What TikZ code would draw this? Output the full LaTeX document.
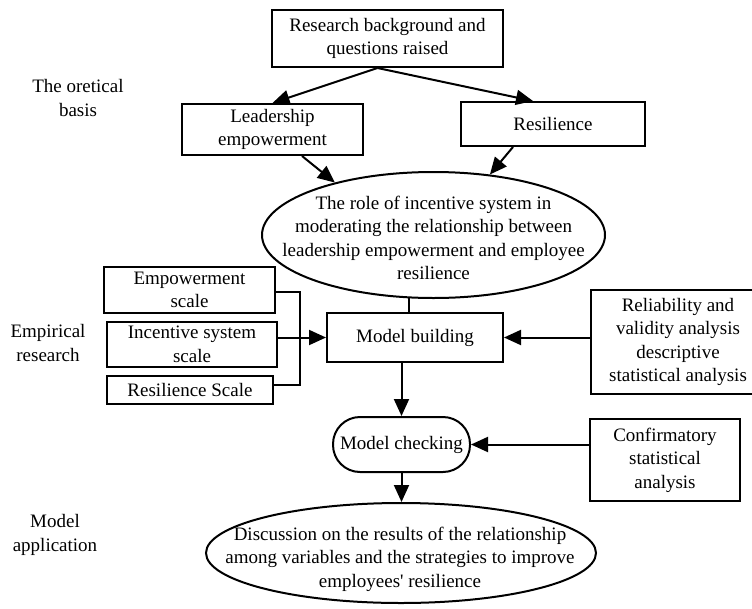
\documentclass[tikz,border=0pt]{standalone}
\usepackage{fontspec}
\setmainfont{Liberation Serif}
\usetikzlibrary{arrows.meta,shapes.geometric,calc}
\newcommand\fsz{\fontsize{19}{23.5}\selectfont}
\begin{document}
\begin{tikzpicture}[x=1pt,y=-1pt,
  box/.style={draw, line width=2pt, inner sep=0pt, align=center, font=\fsz},
  ell/.style={draw, ellipse, line width=2pt, inner sep=0pt},
  lbl/.style={align=center, font=\fsz, inner sep=0pt},
  ln/.style={line width=2pt},
  arr/.style={line width=2pt, -{Triangle[length=17pt,width=15pt]}}]
\useasboundingbox (0,0) rectangle (752,608);
\clip (0,0) rectangle (752,608);
% side labels
\node[lbl] (l1) at (78,98) {The oretical\\basis};
\node[lbl] (l2) at (48,343) {Empirical\\research};
\node[lbl] (l3) at (55,535) {Model\\application};
% boxes
\node[box, minimum width=231pt, minimum height=57pt] (top) at (387.5,38.5) {Research background and\\questions raised};
\node[box, minimum width=181pt, minimum height=51pt] (lead) at (272.5,129.5) {Leadership\\empowerment};
\node[box, minimum width=184pt, minimum height=44pt] (res) at (553,124) {Resilience};
\node[ell, minimum width=343pt, minimum height=126pt] (e1) at (433.5,235) {};
\node[lbl] (e1t) at (433.5,238) {The role of incentive system in\\moderating the relationship between\\leadership empowerment and employee\\resilience};
\node[box, minimum width=171pt, minimum height=46pt] (emp) at (189.5,290) {Empowerment\\scale};
\node[box, minimum width=170pt, minimum height=45pt] (inc) at (192,344.5) {Incentive system\\scale};
\node[box, minimum width=166pt, minimum height=28pt] (rsc) at (190,390) {Resilience Scale};
\node[box, minimum width=176pt, minimum height=49pt] (mb) at (415,337.5) {Model building};
\node[box, minimum width=174pt, minimum height=104pt] (rel) at (678,342) {Reliability and\\validity analysis\\descriptive\\statistical analysis};
\node[box, rounded corners=27pt, minimum width=137pt, minimum height=55pt] (mc) at (401.5,444.5) {Model checking};
\node[box, minimum width=150pt, minimum height=82pt] (conf) at (665,460) {Confirmatory\\statistical\\analysis};
\node[ell, minimum width=390pt, minimum height=100pt] (e2) at (401,553) {};
\node[lbl] (e2t) at (400,559) {Discussion on the results of the relationship\\among variables and the strategies to improve\\employees\textquotesingle{} resilience};
% connectors
\coordinate (tops) at ($(top.south)+(-10,0)$);
\draw[arr] (tops) -- (lead.north);
\draw[arr] (tops) -- ($(res.north)+(-20,0)$);
\draw[arr] ($(lead.south)+(29.5,0)$) -- (e1.152.9);
\draw[arr] ($(res.south)+(-40,0)$) -- (e1.47.9);
\draw[ln] (e1.249.4) -- (e1.249.4 |- mb.north);
\coordinate (brk) at (300,0);
\draw[ln] ($(emp.east)+(0,2)$) -- ($(brk |- emp.east)+(0,2)$) -- ($(brk |- rsc.east)+(0,-5)$) -- ($(rsc.east)+(0,-5)$);
\draw[arr] (inc.east |- mb.west) -- (mb.west);
\draw[arr] (rel.west |- mb.east) -- (mb.east);
\draw[arr] (mb.south -| mc.north) -- (mc.north);
\draw[arr] (conf.west |- mc.east) -- (mc.east);
\draw[arr] (mc.south) -- (mc.south |- e2.north);
\end{tikzpicture}
\end{document}
